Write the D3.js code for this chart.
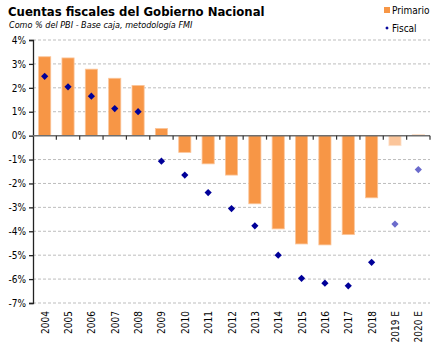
<!DOCTYPE html>
<html>
<head>
<meta charset="utf-8" />
<title>Cuentas fiscales</title>
<script src="https://cdn.jsdelivr.net/npm/d3@7"></script>
<style>
  body { margin: 0; background: #fff; }
  text { font-family: "DejaVu Sans Condensed", "DejaVu Sans", sans-serif; fill: #000; }
</style>
</head>
<body>
<script>
  // data
  const years = ["2004", "2005", "2006", "2007", "2008", "2009", "2010", "2011", "2012",
                 "2013", "2014", "2015", "2016", "2017", "2018", "2019 E", "2020 E"];
  const primario = [3.3, 3.25, 2.78, 2.4, 2.1, 0.3, -0.7, -1.18, -1.65, -2.85, -3.9,
                    -4.53, -4.57, -4.14, -2.6, -0.42, 0.05];
  const fiscal = [2.48, 2.04, 1.65, 1.13, 1.0, -1.07, -1.65, -2.38, -3.05, -3.77, -5.0,
                  -5.97, -6.17, -6.28, -5.3, -3.7, -1.42];
  const estimated = ["2019 E", "2020 E"];
  const yTicks = [4, 3, 2, 1, 0, -1, -2, -3, -4, -5, -6, -7];

  const width = 442, height = 350;
  const margin = { top: 40, right: 12, bottom: 47, left: 33 };

  const svg = d3.select("body").append("svg")
      .attr("width", width)
      .attr("height", height);

  const x = d3.scaleBand()
      .domain(years)
      .range([margin.left, width - margin.right])
      .paddingInner(0.48)
      .paddingOuter(0.24);

  const y = d3.scaleLinear()
      .domain([-7, 4])
      .range([height - margin.bottom, margin.top]);

  // title
  svg.append("text")
      .attr("x", 8).attr("y", 16)
      .style("font-size", "13px").style("font-weight", "bold")
      .text("Cuentas fiscales del Gobierno Nacional");
  svg.append("text")
      .attr("x", 9).attr("y", 28)
      .style("font-size", "9px").style("font-style", "italic")
      .text("Como % del PBI - Base caja, metodología FMI");

  // grid
  svg.append("g")
      .selectAll("line")
      .data(yTicks.filter(d => d !== 0))
      .join("line")
      .attr("x1", margin.left).attr("x2", width - margin.right)
      .attr("y1", d => y(d)).attr("y2", d => y(d))
      .attr("stroke", "#bdbdbd")
      .attr("stroke-dasharray", "3,2");

  // y axis
  const yAxis = svg.append("g")
      .attr("transform", `translate(${margin.left},0)`)
      .call(d3.axisLeft(y).tickValues(yTicks).tickFormat(d => d + "%").tickSize(4).tickPadding(3));
  yAxis.select(".domain").attr("stroke", "#222").attr("stroke-width", 1.3);
  yAxis.selectAll(".tick line").attr("stroke", "#222").attr("stroke-width", 1.3);
  yAxis.selectAll("text").style("font-size", "10px")
      .style("font-family", "'DejaVu Sans Condensed', sans-serif");

  // bars
  svg.append("g")
      .selectAll("rect")
      .data(years)
      .join("rect")
      .attr("x", d => x(d))
      .attr("width", x.bandwidth())
      .attr("y", (d, i) => y(Math.max(0, primario[i])))
      .attr("height", (d, i) => Math.abs(y(primario[i]) - y(0)))
      .attr("fill", d => estimated.includes(d) ? "#fbc59a" : "#f79646")
      .attr("stroke", d => estimated.includes(d) ? "#fde2cc" : "#fbc59a")
      .attr("stroke-width", 0.8);

  // x axis along zero
  const step = x.step();
  const zeroG = svg.append("g");
  zeroG.append("line")
      .attr("x1", margin.left).attr("x2", width - margin.right)
      .attr("y1", y(0)).attr("y2", y(0))
      .attr("stroke", "#6e6e6e").attr("stroke-width", 1.5);
  zeroG.selectAll("line.tk")
      .data(years.slice(1).concat(["end"]))
      .join("line")
      .attr("class", "tk")
      .attr("x1", d => d === "end" ? width - margin.right : x(d) - x.paddingInner() * step / 2)
      .attr("x2", d => d === "end" ? width - margin.right : x(d) - x.paddingInner() * step / 2)
      .attr("y1", y(0)).attr("y2", y(0) + 4)
      .attr("stroke", "#333").attr("stroke-width", 1.2);

  // year labels
  svg.append("g")
      .selectAll("text")
      .data(years)
      .join("text")
      .attr("transform", d => `translate(${x(d) + x.bandwidth() / 2 + 4},${y(-7) + 8}) rotate(-90)`)
      .attr("text-anchor", "end")
      .style("font-size", "10px")
      .text(d => d);

  // fiscal diamonds (rotated squares)
  const diamond = d3.symbol().type(d3.symbolSquare).size(26);
  svg.append("g")
      .selectAll("path")
      .data(years)
      .join("path")
      .attr("d", diamond)
      .attr("transform", (d, i) => `translate(${x(d) + x.bandwidth() / 2},${y(fiscal[i])}) rotate(45)`)
      .attr("fill", d => estimated.includes(d) ? "#6b6bcc" : "#000099");

  // legend
  const lg = svg.append("g");
  lg.append("rect")
      .attr("x", 384).attr("y", 7).attr("width", 6).attr("height", 6)
      .attr("fill", "#f79646");
  lg.append("text")
      .attr("x", 392).attr("y", 14)
      .style("font-size", "10px")
      .text("Primario");
  lg.append("path")
      .attr("d", d3.symbol().type(d3.symbolSquare).size(6))
      .attr("transform", "translate(387,28) rotate(45)")
      .attr("fill", "#000099");
  lg.append("text")
      .attr("x", 392).attr("y", 32)
      .style("font-size", "10px")
      .text("Fiscal");
</script>
</body>
</html>
